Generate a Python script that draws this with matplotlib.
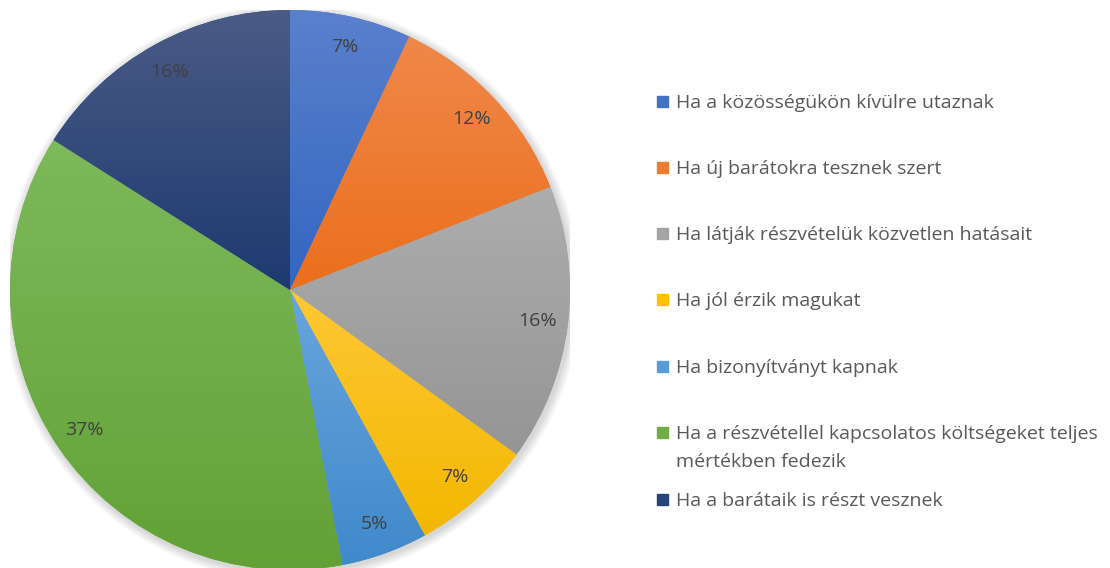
import matplotlib
matplotlib.use("Agg")
import matplotlib.pyplot as plt
import numpy as np
from matplotlib.colors import to_rgb
from matplotlib.patches import Rectangle, Circle

plt.rcParams['font.family'] = ['Open Sans', 'DejaVu Sans']

labels = [
    "Ha a közösségükön kívülre utaznak",
    "Ha új barátokra tesznek szert",
    "Ha látják részvételük közvetlen hatásait",
    "Ha jól érzik magukat",
    "Ha bizonyítványt kapnak",
    "Ha a részvétellel kapcsolatos költségeket teljes\nmértékben fedezik",
    "Ha a barátaik is részt vesznek",
]
shares = [7, 12, 16, 7, 5, 37, 16]
colors = ["#4472C4", "#ED7D31", "#A5A5A5", "#FFC000", "#5B9BD5", "#70AD47", "#264478"]
top_colors = ["#5A80CD", "#F0884A", "#ADADAD", "#FFC736", "#69A5DD", "#7EB95A", "#4B5B86"]
bottom_colors = ["#3366C1", "#EB6F1C", "#959595", "#F2B800", "#4089CB", "#62A136", "#1D3A6F"]

W, H = 1110, 568
fig = plt.figure(figsize=(W / 100, H / 100), dpi=100)
cx, cy, R = 290, 290, 280
ax = fig.add_axes([(cx - R) / W, (H - cy - R) / H, 2 * R / W, 2 * R / H])
ax.axis('off')

# soft shadow
for k in range(8):
    ax.add_patch(Circle((0.006, -0.008), 1.0 + 0.004 * (8 - k), color='black',
                        alpha=0.018, lw=0, zorder=0))

wedges, texts, autotexts = ax.pie(
    shares, colors=colors, startangle=90, counterclock=False, radius=1,
    autopct=lambda p: f"{p:.0f}%", pctdistance=0.89,
    wedgeprops=dict(linewidth=0), textprops=dict(color="#404040", fontsize=14),
    frame=False)
ax.set_xlim(-1, 1)
ax.set_ylim(-1, 1)

# vertical gradient inside each slice
for w, c0, c1 in zip(wedges, top_colors, bottom_colors):
    verts = w.get_path().vertices
    ymin, ymax = verts[:, 1].min(), verts[:, 1].max()
    xmin, xmax = verts[:, 0].min(), verts[:, 0].max()
    t = np.linspace(0, 1, 256)[:, None]
    a, b = np.array(to_rgb(c0)), np.array(to_rgb(c1))
    grad = (a[None, :] * (1 - t) + b[None, :] * t)[:, None, :]
    im = ax.imshow(grad, extent=[xmin, xmax, ymin, ymax], origin='upper',
                   aspect='auto', zorder=w.get_zorder() + 0.1, interpolation='bilinear')
    im.set_clip_path(w)
for t in autotexts:
    t.set_zorder(5)

# legend, drawn by hand so the wrapped entry keeps its square on the first line
ys = [101, 167, 233, 299, 366, 432, 499]
for lab, col, y in zip(labels, colors, ys):
    fig.patches.append(Rectangle((657 / W, (H - y - 6) / H), 11 / W, 11 / H,
                                 transform=fig.transFigure, color=col))
    for j, line in enumerate(lab.split("\n")):
        fig.text(676 / W, (H - y - 7 - 28 * j) / H, line, color="#595959",
                 fontsize=14, va='baseline', ha='left')

fig.savefig("out.png", dpi=100, facecolor='white')
